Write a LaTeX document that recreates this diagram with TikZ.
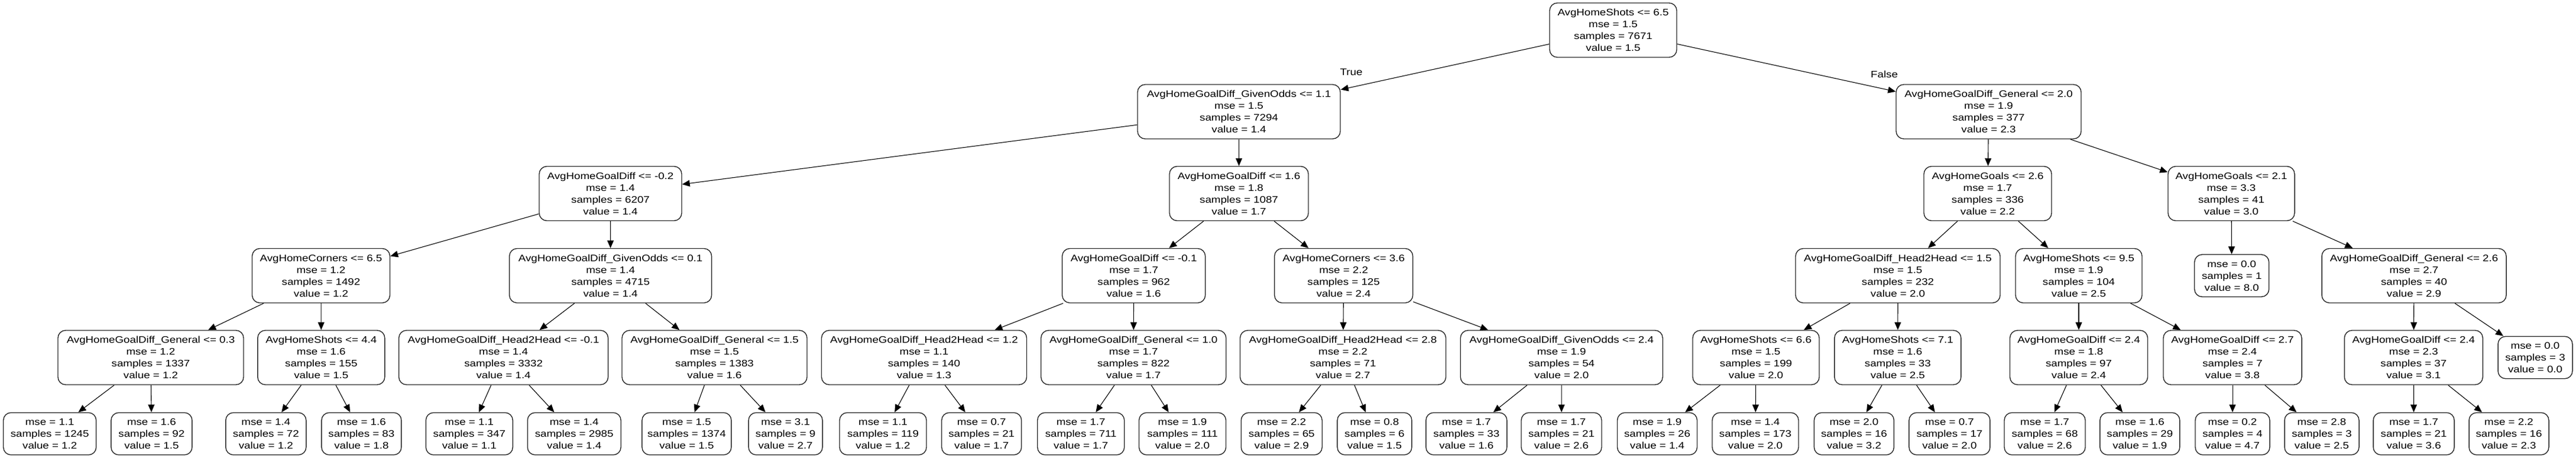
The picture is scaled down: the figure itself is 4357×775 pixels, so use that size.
\documentclass[tikz,border=0pt]{standalone}
\usepackage{fontspec}
\usetikzlibrary{arrows.meta}
\newfontfamily\nodefont[FakeStretch=1.17]{Liberation Sans}
\tikzset{
  tn/.style={draw=black!85, line width=1.4pt, rounded corners=13pt, align=center,
    font=\fontsize{16}{20}\selectfont\nodefont, inner xsep=3pt, inner ysep=0pt,
    minimum width=#1, minimum height=92pt},
  lf/.style={tn=#1, minimum height=71.5pt},
  ed/.style={line width=1.1pt, -{Triangle[length=13pt,width=11pt]}},
  el/.style={font=\fontsize{16}{20}\selectfont\nodefont, inner sep=0pt}
}
\begin{document}
\begin{tikzpicture}[x=1pt,y=-1pt]
\useasboundingbox (0,0) rectangle (4357,775);
% level 0
\node[tn=215] (n0) at (2728.5,51) {AvgHomeShots <= 6.5\\mse = 1.5\\samples = 7671\\value = 1.5};
% level 1
\node[tn=343] (n1a) at (2095.5,189) {AvgHomeGoalDiff\_GivenOdds <= 1.1\\mse = 1.5\\samples = 7294\\value = 1.4};
\node[tn=313] (n1b) at (3363.5,189) {AvgHomeGoalDiff\_General <= 2.0\\mse = 1.9\\samples = 377\\value = 2.3};
% level 2
\node[tn=241] (n2a) at (1032.5,327.5) {AvgHomeGoalDiff <= -0.2\\mse = 1.4\\samples = 6207\\value = 1.4};
\node[tn=235] (n2b) at (2095.5,327.5) {AvgHomeGoalDiff <= 1.6\\mse = 1.8\\samples = 1087\\value = 1.7};
\node[tn=216] (n2c) at (3362,327.5) {AvgHomeGoals <= 2.6\\mse = 1.7\\samples = 336\\value = 2.2};
\node[tn=214] (n2d) at (3774,327.5) {AvgHomeGoals <= 2.1\\mse = 3.3\\samples = 41\\value = 3.0};
% level 3
\node[tn=233] (n3a) at (543,466.5) {AvgHomeCorners <= 6.5\\mse = 1.2\\samples = 1492\\value = 1.2};
\node[tn=342] (n3b) at (1032.6,466.5) {AvgHomeGoalDiff\_GivenOdds <= 0.1\\mse = 1.4\\samples = 4715\\value = 1.4};
\node[tn=242] (n3c) at (1917.6,466.5) {AvgHomeGoalDiff <= -0.1\\mse = 1.7\\samples = 962\\value = 1.6};
\node[tn=234] (n3d) at (2272.6,466.5) {AvgHomeCorners <= 3.6\\mse = 2.2\\samples = 125\\value = 2.4};
\node[tn=346] (n3e) at (3210,466.5) {AvgHomeGoalDiff\_Head2Head <= 1.5\\mse = 1.5\\samples = 232\\value = 2.0};
\node[tn=214] (n3f) at (3516,466.5) {AvgHomeShots <= 9.5\\mse = 1.9\\samples = 104\\value = 2.5};
\node[lf=126] (n3g) at (3774.7,466.5) {mse = 0.0\\samples = 1\\value = 8.0};
\node[tn=312] (n3h) at (4083,466.5) {AvgHomeGoalDiff\_General <= 2.6\\mse = 2.7\\samples = 40\\value = 2.9};
% level 4
\node[tn=314] (n4a) at (255,605) {AvgHomeGoalDiff\_General <= 0.3\\mse = 1.2\\samples = 1337\\value = 1.2};
\node[tn=215] (n4b) at (543.3,605) {AvgHomeShots <= 4.4\\mse = 1.6\\samples = 155\\value = 1.5};
\node[tn=354] (n4c) at (851.6,605) {AvgHomeGoalDiff\_Head2Head <= -0.1\\mse = 1.4\\samples = 3332\\value = 1.4};
\node[tn=313] (n4d) at (1208.5,605) {AvgHomeGoalDiff\_General <= 1.5\\mse = 1.5\\samples = 1383\\value = 1.6};
\node[tn=347] (n4e) at (1563,605) {AvgHomeGoalDiff\_Head2Head <= 1.2\\mse = 1.1\\samples = 140\\value = 1.3};
\node[tn=313] (n4f) at (1917.2,605) {AvgHomeGoalDiff\_General <= 1.0\\mse = 1.7\\samples = 822\\value = 1.7};
\node[tn=348] (n4g) at (2271.5,605) {AvgHomeGoalDiff\_Head2Head <= 2.8\\mse = 2.2\\samples = 71\\value = 2.7};
\node[tn=342] (n4h) at (2641.2,605) {AvgHomeGoalDiff\_GivenOdds <= 2.4\\mse = 1.9\\samples = 54\\value = 2.0};
\node[tn=214] (n4i) at (2970,605) {AvgHomeShots <= 6.6\\mse = 1.5\\samples = 199\\value = 2.0};
\node[tn=214] (n4j) at (3209.8,605) {AvgHomeShots <= 7.1\\mse = 1.6\\samples = 33\\value = 2.5};
\node[tn=233] (n4k) at (3516,605) {AvgHomeGoalDiff <= 2.4\\mse = 1.8\\samples = 97\\value = 2.4};
\node[tn=234] (n4l) at (3776,605) {AvgHomeGoalDiff <= 2.7\\mse = 2.4\\samples = 7\\value = 3.8};
\node[tn=234] (n4m) at (4082.3,605) {AvgHomeGoalDiff <= 2.4\\mse = 2.3\\samples = 37\\value = 3.1};
\node[lf=126] (n4n) at (4288,605) {mse = 0.0\\samples = 3\\value = 0.0};
% leaves
\node[lf=157] (l1) at (84.2,734) {mse = 1.1\\samples = 1245\\value = 1.2};
\node[lf=137] (l2) at (256.4,734) {mse = 1.6\\samples = 92\\value = 1.5};
\node[lf=136] (l3) at (449.8,734) {mse = 1.4\\samples = 72\\value = 1.2};
\node[lf=135] (l4) at (611.4,734) {mse = 1.6\\samples = 83\\value = 1.8};
\node[lf=147] (l5) at (793.8,734) {mse = 1.1\\samples = 347\\value = 1.1};
\node[lf=158] (l6) at (971.2,734) {mse = 1.4\\samples = 2985\\value = 1.4};
\node[lf=151] (l7) at (1161.4,734) {mse = 1.5\\samples = 1374\\value = 1.5};
\node[lf=125] (l8) at (1328.6,734) {mse = 3.1\\samples = 9\\value = 2.7};
\node[lf=147] (l9) at (1493.5,734) {mse = 1.1\\samples = 119\\value = 1.2};
\node[lf=135] (l10) at (1660.2,734) {mse = 0.7\\samples = 21\\value = 1.7};
\node[lf=147] (l11) at (1828.2,734) {mse = 1.7\\samples = 711\\value = 1.7};
\node[lf=147] (l12) at (2000,734) {mse = 1.9\\samples = 111\\value = 2.0};
\node[lf=137] (l13) at (2167.7,734) {mse = 2.2\\samples = 65\\value = 2.9};
\node[lf=126] (l14) at (2324.9,734) {mse = 0.8\\samples = 6\\value = 1.5};
\node[lf=137] (l15) at (2480.3,734) {mse = 1.7\\samples = 33\\value = 1.6};
\node[lf=136] (l16) at (2641,734) {mse = 1.7\\samples = 21\\value = 2.6};
\node[lf=135] (l17) at (2803,734) {mse = 1.9\\samples = 26\\value = 1.4};
\node[lf=146] (l18) at (2969,734) {mse = 1.4\\samples = 173\\value = 2.0};
\node[lf=135] (l19) at (3135.9,734) {mse = 2.0\\samples = 16\\value = 3.2};
\node[lf=137] (l20) at (3297.4,734) {mse = 0.7\\samples = 17\\value = 2.0};
\node[lf=137] (l21) at (3458.5,734) {mse = 1.7\\samples = 68\\value = 2.6};
\node[lf=135] (l22) at (3619.3,734) {mse = 1.6\\samples = 29\\value = 1.9};
\node[lf=126] (l23) at (3776,734) {mse = 0.2\\samples = 4\\value = 4.7};
\node[lf=126] (l24) at (3927,734) {mse = 2.8\\samples = 3\\value = 2.5};
\node[lf=137] (l25) at (4082.6,734) {mse = 1.7\\samples = 21\\value = 3.6};
\node[lf=135] (l26) at (4243.5,734) {mse = 2.2\\samples = 16\\value = 2.3};
% edges
\draw[ed] (n0) -- (n1a);
\draw[ed] (n0) -- (n1b);
\node[el] (tlab) at (2285.5,122) {True};
\node[el] (flab) at (3187,126) {False};
\draw[ed] (n1a) -- (n2a);
\draw[ed] (n1a) -- (n2b);
\draw[ed] (n1b) -- (n2c);
\draw[ed] (n1b) -- (n2d);
\draw[ed] (n2a) -- (n3a);
\draw[ed] (n2a) -- (n3b);
\draw[ed] (n2b) -- (n3c);
\draw[ed] (n2b) -- (n3d);
\draw[ed] (n2c) -- (n3e);
\draw[ed] (n2c) -- (n3f);
\draw[ed] (n2d) -- (n3g);
\draw[ed] (n2d) -- (n3h);
\draw[ed] (n3a) -- (n4a);
\draw[ed] (n3a) -- (n4b);
\draw[ed] (n3b) -- (n4c);
\draw[ed] (n3b) -- (n4d);
\draw[ed] (n3c) -- (n4e);
\draw[ed] (n3c) -- (n4f);
\draw[ed] (n3d) -- (n4g);
\draw[ed] (n3d) -- (n4h);
\draw[ed] (n3e) -- (n4i);
\draw[ed] (n3e) -- (n4j);
\draw[ed] (n3f) -- (n4k);
\draw[ed] (n3f) -- (n4l);
\draw[ed] (n3h) -- (n4m);
\draw[ed] (n3h) -- (n4n);
\draw[ed] (n4a) -- (l1);
\draw[ed] (n4a) -- (l2);
\draw[ed] (n4b) -- (l3);
\draw[ed] (n4b) -- (l4);
\draw[ed] (n4c) -- (l5);
\draw[ed] (n4c) -- (l6);
\draw[ed] (n4d) -- (l7);
\draw[ed] (n4d) -- (l8);
\draw[ed] (n4e) -- (l9);
\draw[ed] (n4e) -- (l10);
\draw[ed] (n4f) -- (l11);
\draw[ed] (n4f) -- (l12);
\draw[ed] (n4g) -- (l13);
\draw[ed] (n4g) -- (l14);
\draw[ed] (n4h) -- (l15);
\draw[ed] (n4h) -- (l16);
\draw[ed] (n4i) -- (l17);
\draw[ed] (n4i) -- (l18);
\draw[ed] (n4j) -- (l19);
\draw[ed] (n4j) -- (l20);
\draw[ed] (n4k) -- (l21);
\draw[ed] (n4k) -- (l22);
\draw[ed] (n4l) -- (l23);
\draw[ed] (n4l) -- (l24);
\draw[ed] (n4m) -- (l25);
\draw[ed] (n4m) -- (l26);
\end{tikzpicture}
\end{document}
